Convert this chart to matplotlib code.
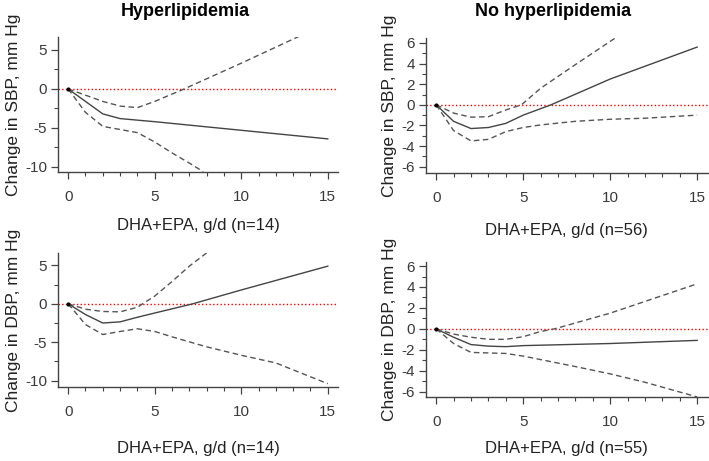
"""Dose-response curves of DHA+EPA on blood pressure, by hyperlipidemia status."""
import matplotlib
matplotlib.use("Agg")
import matplotlib.pyplot as plt
from matplotlib.ticker import MultipleLocator

plt.rcParams["font.family"] = ["Liberation Sans", "DejaVu Sans"]
plt.rcParams["axes.unicode_minus"] = False

# SBP, hyperlipidemia (n=14)
sbp_hyp_x = [0, 1, 2, 3, 4, 5, 10, 15]
sbp_hyp_est = [0, -1.6, -3.2, -3.8, -4.0, -4.2, -5.3, -6.4]
sbp_hyp_up_x = [0, 1, 2, 3, 4, 5, 6.7, 10, 13.4]
sbp_hyp_up = [0, -0.8, -1.6, -2.2, -2.4, -1.6, 0, 3.3, 6.8]
sbp_hyp_lo_x = [0, 1, 2, 3, 4, 5, 6, 7, 7.8]
sbp_hyp_lo = [0, -3.0, -4.8, -5.2, -5.6, -6.8, -8.2, -9.5, -10.6]

# SBP, no hyperlipidemia (n=56)
sbp_no_x = [0, 1, 2, 3, 4, 5, 6.6, 10, 15]
sbp_no_est = [0, -1.6, -2.3, -2.2, -1.8, -1.0, 0, 2.5, 5.6]
sbp_no_up_x = [0, 1, 2, 3, 4, 4.9, 6, 8, 10.4]
sbp_no_up = [0, -0.8, -1.2, -1.15, -0.5, 0, 1.6, 3.9, 6.6]
sbp_no_lo_x = [0, 1, 2, 3, 4, 5, 6, 8, 10, 12, 15]
sbp_no_lo = [0, -2.5, -3.5, -3.35, -2.6, -2.2, -1.95, -1.6, -1.4, -1.3, -1.0]

# DBP, hyperlipidemia (n=14)
dbp_hyp_x = [0, 1, 2, 3, 4, 5, 7.2, 10, 15]
dbp_hyp_est = [0, -1.4, -2.5, -2.35, -1.75, -1.2, 0, 1.8, 4.9]
dbp_hyp_up_x = [0, 1, 2, 3, 4, 4.3, 5, 6, 7, 8.1]
dbp_hyp_up = [0, -0.7, -1.0, -1.05, -0.45, 0, 1.0, 2.9, 4.9, 6.8]
dbp_hyp_lo_x = [0, 1, 2, 3, 4, 5, 6, 8, 10, 12, 14, 15]
dbp_hyp_lo = [0, -2.7, -4.0, -3.6, -3.25, -3.6, -4.3, -5.6, -6.7, -7.7, -9.5, -10.4]

# DBP, no hyperlipidemia (n=55)
dbp_no_x = [0, 1, 2, 3, 4, 5, 10, 15]
dbp_no_est = [0, -0.8, -1.5, -1.65, -1.7, -1.6, -1.4, -1.1]
dbp_no_up_x = [0, 1, 2, 3, 4, 5, 6, 6.8, 10, 15]
dbp_no_up = [0, -0.5, -0.8, -1.0, -1.0, -0.75, -0.25, 0, 1.5, 4.3]
dbp_no_lo_x = [0, 1, 2, 3, 4, 5, 8, 10, 12, 15]
dbp_no_lo = [0, -1.4, -2.25, -2.3, -2.35, -2.6, -3.6, -4.3, -5.1, -6.5]

panels = [
    # (position, est, upper, lower, ylabel, xlabel, ylim, major, minor, xlabel pad)
    ([0.082, 0.627, 0.395, 0.293],
     (sbp_hyp_x, sbp_hyp_est), (sbp_hyp_up_x, sbp_hyp_up), (sbp_hyp_lo_x, sbp_hyp_lo),
     "Change in SBP, mm Hg", "DHA+EPA, g/d (n=14)", (-10.64, 6.67), 5, 2.5, 10),
    ([0.601, 0.625, 0.397, 0.293],
     (sbp_no_x, sbp_no_est), (sbp_no_up_x, sbp_no_up), (sbp_no_lo_x, sbp_no_lo),
     "Change in SBP, mm Hg", "DHA+EPA, g/d (n=56)", (-6.6, 6.5), 2, 1, 13),
    ([0.082, 0.161, 0.395, 0.290],
     (dbp_hyp_x, dbp_hyp_est), (dbp_hyp_up_x, dbp_hyp_up), (dbp_hyp_lo_x, dbp_hyp_lo),
     "Change in DBP, mm Hg", "DHA+EPA, g/d (n=14)", (-10.8, 6.6), 5, 2.5, 16),
    ([0.601, 0.139, 0.397, 0.293],
     (dbp_no_x, dbp_no_est), (dbp_no_up_x, dbp_no_up), (dbp_no_lo_x, dbp_no_lo),
     "Change in DBP, mm Hg", "DHA+EPA, g/d (n=55)", (-6.5, 6.4), 2, 1, 9),
]

fig = plt.figure(figsize=(7.09, 4.61), dpi=100)

for pos, est, up, lo, ylab, xlab, ylim, major, minor, xpad in panels:
    ax = fig.add_axes(pos)
    ax.axhline(0, color="red", linestyle=":", linewidth=1.0)
    ax.plot(*est, color="#444444", linewidth=1.0)
    ax.plot(*up, color="#555555", linewidth=1.0, linestyle=(0, (4, 2.5)))
    ax.plot(*lo, color="#555555", linewidth=1.0, linestyle=(0, (4, 2.5)))
    ax.plot([0], [0], marker="o", markersize=2, color="black")
    ax.set_xlim(-0.58, 15.6)
    ax.set_ylim(*ylim)
    ax.xaxis.set_major_locator(MultipleLocator(5))
    ax.xaxis.set_minor_locator(MultipleLocator(1))
    ax.yaxis.set_major_locator(MultipleLocator(major))
    ax.yaxis.set_minor_locator(MultipleLocator(minor))
    for s in ["top", "right"]:
        ax.spines[s].set_visible(False)
    for s in ["left", "bottom"]:
        ax.spines[s].set_color("#444444")
        ax.spines[s].set_linewidth(1.0)
    ax.tick_params(which="major", length=5, width=0.9, color="#444444",
                   labelsize=11, labelcolor="#3a3a3a", pad=3)
    ax.tick_params(which="minor", length=3, width=0.8, color="#444444")
    ax.tick_params(axis="x", pad=8)
    ax.set_xlabel(xlab, fontsize=12, color="#222222", labelpad=xpad)
    ax.set_ylabel(ylab, fontsize=12.5, color="#222222", labelpad=3)

fig.text(0.262, 0.976, "Hyperlipidemia", ha="center", va="center",
         fontsize=13, fontweight="bold")
fig.text(0.78, 0.976, "No hyperlipidemia", ha="center", va="center",
         fontsize=13, fontweight="bold")

fig.savefig("out.png", dpi=100)
